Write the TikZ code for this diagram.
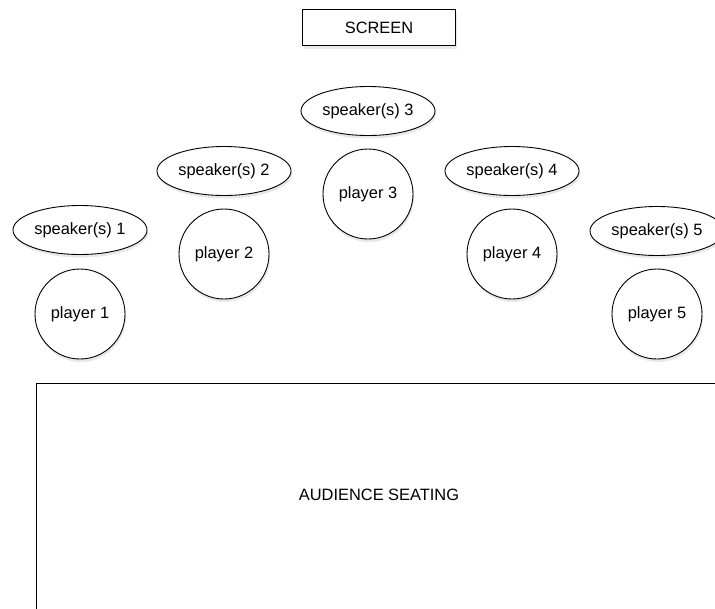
\documentclass[tikz,border=0pt]{standalone}
\usepackage{fontspec}
\setmainfont{Liberation Sans}
\usetikzlibrary{shapes.geometric, shadows}
\tikzset{>=stealth}
\tikzset{
  softshadow/.style={drop shadow={opacity=0.15, fill=black!60, shadow xshift=1pt, shadow yshift=-3pt}},
  speaker/.style={draw, ellipse, fill=white, line width=0.9pt, minimum width=134pt, minimum height=49pt, inner sep=0pt, softshadow},
  player/.style={draw, circle, fill=white, line width=0.9pt, minimum size=90pt, inner sep=0pt, softshadow},
  label/.style={font=\fontsize{16.4}{19}\selectfont}
}

\begin{document}
\begin{tikzpicture}[x=1pt, y=-1pt]
\useasboundingbox (0,0) rectangle (715,608);
\clip (0,0) rectangle (715,608);
\node[draw, fill=white, line width=0.9pt, minimum width=153pt, minimum height=36pt, softshadow, label] (screen) at (379,27.5) {SCREEN};
\node[speaker, label] (spk1) at (80,230) {speaker(s) 1};
\node[speaker, label] (spk2) at (224,171) {speaker(s) 2};
\node[speaker, label] (spk3) at (368,111) {speaker(s) 3};
\node[speaker, label] (spk4) at (512,171) {speaker(s) 4};
\node[speaker, label] (spk5) at (657,231) {speaker(s) 5};
\node[player, label] (pl1) at (80,314) {player 1};
\node[player, label] (pl2) at (224,254) {player 2};
\node[player, label] (pl3) at (368,194) {player 3};
\node[player, label] (pl4) at (512,254) {player 4};
\node[player, label] (pl5) at (657,314) {player 5};
\draw[line width=0.9pt] (36,630) -- (36,383) -- (740,383);
\node[label] (seating) at (379,495) {AUDIENCE SEATING};
\end{tikzpicture}
\end{document}
